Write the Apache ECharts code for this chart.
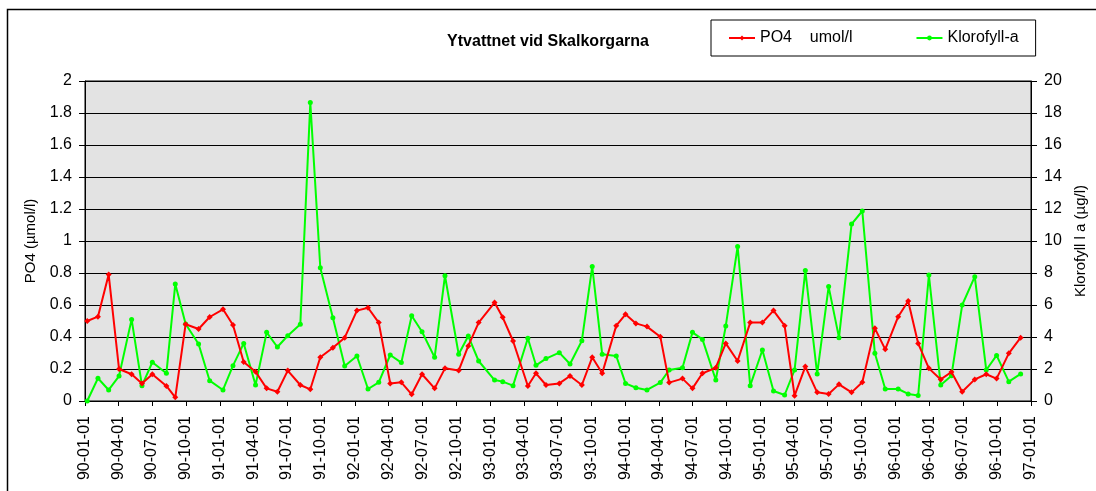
<!DOCTYPE html>
<html>
<head>
<meta charset="utf-8">
<script src="https://cdn.jsdelivr.net/npm/echarts@6/dist/echarts.min.js"></script>
<style>
html,body{margin:0;padding:0;background:#fff;}
#chart{width:1096px;height:491px;}
</style>
</head>
<body>
<div id="chart"></div>
<script>
const sampleDates = ['1990-01-07','1990-02-05','1990-03-06','1990-04-03','1990-05-07','1990-06-04','1990-07-02','1990-08-09','1990-09-02','1990-09-30','1990-11-04','1990-12-04',
'1991-01-09','1991-02-05','1991-03-06','1991-04-07','1991-05-07','1991-06-05','1991-07-03','1991-08-06','1991-09-02','1991-09-29','1991-11-02','1991-12-04',
'1992-01-06','1992-02-05','1992-03-05','1992-04-05','1992-05-05','1992-06-02','1992-06-30','1992-08-03','1992-08-31','1992-10-07','1992-11-02','1992-11-30',
'1993-01-12','1993-02-03','1993-03-03','1993-04-12','1993-05-04','1993-05-31','1993-07-06','1993-08-04','1993-09-05','1993-10-03','1993-10-30','1993-12-07',
'1994-01-01','1994-01-29','1994-02-28','1994-04-05','1994-04-29','1994-06-04','1994-07-01','1994-07-28','1994-09-02','1994-09-29','1994-10-31','1994-12-04',
'1995-01-06','1995-02-05','1995-03-07','1995-04-03','1995-05-02','1995-06-03','1995-07-04','1995-08-01','1995-09-04','1995-10-03','1995-11-06','1995-12-04',
'1996-01-08','1996-02-04','1996-03-02','1996-03-31','1996-05-02','1996-05-31','1996-06-29','1996-08-02','1996-09-02','1996-09-30','1996-11-02','1996-12-04'];

const po4 = [0.50,0.527,0.79,0.20,0.167,0.11,0.167,0.094,0.023,0.48,0.45,0.525,
0.573,0.475,0.244,0.183,0.079,0.058,0.19,0.10,0.073,0.273,0.333,0.396,
0.565,0.583,0.49,0.11,0.117,0.042,0.167,0.079,0.204,0.19,0.344,0.49,
0.615,0.523,0.375,0.094,0.173,0.10,0.11,0.156,0.10,0.273,0.173,0.471,
0.542,0.485,0.465,0.402,0.115,0.14,0.079,0.173,0.208,0.36,0.25,0.49,
0.49,0.565,0.471,0.033,0.215,0.054,0.044,0.104,0.054,0.117,0.454,0.323,
0.527,0.625,0.36,0.204,0.135,0.181,0.058,0.135,0.167,0.14,0.298,0.396];

const klorofyll = [0,1.42,0.69,1.56,5.1,0.96,2.42,1.73,7.31,4.81,3.56,1.27,
0.69,2.21,3.6,1.0,4.29,3.375,4.08,4.79,18.65,8.33,5.21,2.19,
2.81,0.75,1.17,2.875,2.40,5.33,4.33,2.73,7.83,2.92,4.06,2.5,
1.31,1.21,0.96,3.92,2.23,2.65,3.02,2.31,3.77,8.4,2.92,2.81,
1.1,0.83,0.69,1.15,1.94,2.08,4.29,3.85,1.31,4.69,9.65,0.96,
3.19,0.625,0.375,1.94,8.15,1.69,7.15,3.96,11.06,11.875,2.98,0.75,
0.75,0.44,0.35,7.875,1.0,1.58,6.0,7.77,1.94,2.85,1.21,1.69];

const xTickDates = ['1990-01-01','1990-04-01','1990-07-01','1990-10-01',
'1991-01-01','1991-04-01','1991-07-01','1991-10-01',
'1992-01-01','1992-04-01','1992-07-01','1992-10-01',
'1993-01-01','1993-04-01','1993-07-01','1993-10-01',
'1994-01-01','1994-04-01','1994-07-01','1994-10-01',
'1995-01-01','1995-04-01','1995-07-01','1995-10-01',
'1996-01-01','1996-04-01','1996-07-01','1996-10-01','1997-01-01'];

const titleText = 'Ytvattnet vid Skalkorgarna';
const seriesNames = ['PO4    umol/l', 'Klorofyll-a'];
const leftAxisName = 'PO4 (µmol/l)';
const rightAxisName = 'Klorofyll l a (µg/l)';

// day number since 1990-01-01 (UTC based, no DST issues)
const BASE = Date.UTC(1990,0,1);
function toDay(s){const p=s.split('-').map(Number);return Math.round((Date.UTC(p[0],p[1]-1,p[2])-BASE)/86400000);}
function fmt(v){const d=new Date(BASE+Math.round(v)*86400000);const yy=String(d.getUTCFullYear()%100).padStart(2,'0');
  const mm=String(d.getUTCMonth()+1).padStart(2,'0');const dd=String(d.getUTCDate()).padStart(2,'0');return yy+'-'+mm+'-'+dd;}

const tickDays = xTickDates.map(toDay);
const po4Data = sampleDates.map((d,i)=>[toDay(d), po4[i]]);
const klorData = sampleDates.map((d,i)=>[toDay(d), klorofyll[i]]);

const FONT = 'Liberation Sans, Arial, sans-serif';
const chart = echarts.init(document.getElementById('chart'), null, {renderer:'canvas'});
chart.setOption({
  animation:false,
  backgroundColor:'#fff',
  textStyle:{fontFamily:FONT},
  graphic:[{type:'rect', silent:true, z:-1,
    shape:{x:7.5,y:9.5,width:1200,height:600},
    style:{fill:'none',stroke:'#000',lineWidth:1.5}}],
  title:{text:titleText,left:'center',top:29,
    textStyle:{fontFamily:FONT,fontSize:16,fontWeight:'bold',color:'#000'}},
  legend:{left:711,top:20,orient:'horizontal',
    padding:[10,17,10,17],itemGap:63,itemWidth:26,itemHeight:6,
    borderColor:'#000',borderWidth:1,backgroundColor:'#fff',
    textStyle:{fontFamily:FONT,fontSize:16,color:'#000'},
    data:seriesNames},
  grid:{left:85,right:64,top:81,bottom:90,show:true,backgroundColor:'#E3E3E3',
    borderColor:'#000',borderWidth:1},
  xAxis:{type:'value',min:tickDays[0],max:tickDays[tickDays.length-1],
    axisLine:{show:true,onZero:false,lineStyle:{color:'#000',width:1}},
    axisTick:{show:true,customValues:tickDays,length:5,lineStyle:{color:'#000'}},
    axisLabel:{customValues:tickDays,rotate:90,margin:15,formatter:fmt,
      fontFamily:FONT,fontSize:16,color:'#000'},
    splitLine:{show:false}},
  yAxis:[{type:'value',min:0,max:2,interval:0.2,position:'left',
      name:leftAxisName,nameLocation:'middle',nameRotate:90,nameGap:46,
      nameTextStyle:{fontFamily:FONT,fontSize:15,color:'#000'},
      axisLine:{show:true,lineStyle:{color:'#000'}},
      axisTick:{show:true,length:6,lineStyle:{color:'#000'}},
      axisLabel:{margin:13,fontFamily:FONT,fontSize:16,color:'#000'},
      splitLine:{show:true,lineStyle:{color:'#000',width:1}}},
    {type:'value',min:0,max:20,interval:2,position:'right',
      name:rightAxisName,nameLocation:'middle',nameRotate:90,nameGap:42,
      nameTextStyle:{fontFamily:FONT,fontSize:15,color:'#000'},
      axisLine:{show:true,lineStyle:{color:'#000'}},
      axisTick:{show:true,length:6,lineStyle:{color:'#000'}},
      axisLabel:{margin:13,fontFamily:FONT,fontSize:16,color:'#000'},
      splitLine:{show:false}}],
  series:[
    {name:seriesNames[0],type:'line',yAxisIndex:0,data:po4Data,
      symbol:'diamond',symbolSize:6,showAllSymbol:true,
      lineStyle:{color:'#FF0000',width:2},itemStyle:{color:'#FF0000'},z:3},
    {name:seriesNames[1],type:'line',yAxisIndex:1,data:klorData,
      symbol:'circle',symbolSize:5,showAllSymbol:true,
      lineStyle:{color:'#00FF00',width:2},itemStyle:{color:'#00FF00'},z:2}
  ]
});
</script>
</body>
</html>
